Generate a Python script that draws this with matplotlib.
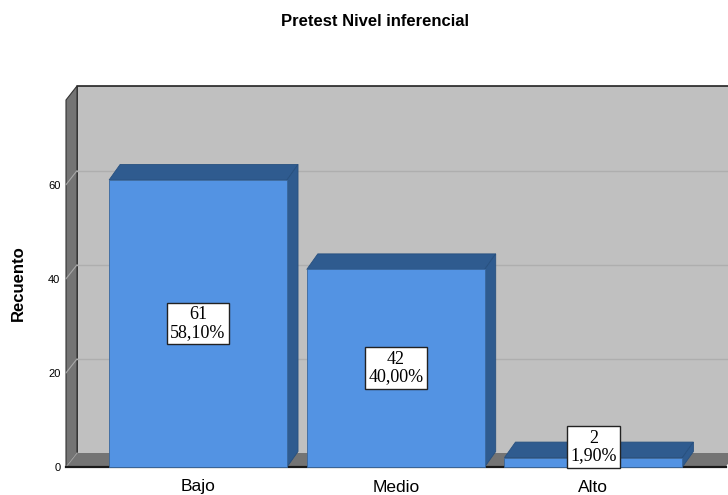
import matplotlib
matplotlib.use('Agg')
import matplotlib.pyplot as plt
from matplotlib.patches import Polygon, Rectangle

# datos del gráfico
categorias = ['Bajo', 'Medio', 'Alto']
recuento = [61, 42, 2]
porcentaje = ['58,10%', '40,00%', '1,90%']
yticks = [0, 20, 40, 60]

plt.rcParams['font.family'] = ['Liberation Sans', 'DejaVu Sans']

W, H = 728, 495
fig = plt.figure(figsize=(W / 100, H / 100), dpi=100)
ax = fig.add_axes([66 / W, 28 / H, 659.5 / W, 367 / H])
x0, x1 = -0.668, 2.668
ymax = 78
ax.set_xlim(x0, x1)
ax.set_ylim(0, ymax)

# profundidad 3D en unidades de datos
pxx = 659.5 / (x1 - x0)
pxy = 367 / ymax
dx = 11 / pxx
dy = 14 / pxy
bdx = 11 / pxx
bdy = 15.5 / pxy

pared = '#c0c0c0'
oscuro = '#747474'
frente = '#5393e3'
tapa = '#2f5b8f'

# pared del fondo
ax.add_patch(Rectangle((x0 + dx, dy), x1 - x0, ymax, fc=pared, ec='none',
                       clip_on=False, zorder=0))
ax.plot([x0 + dx, x0 + dx, x1 + dx], [dy, ymax + dy, ymax + dy],
        color='#222222', lw=1.2, clip_on=False, zorder=1)
# pared izquierda
ax.add_patch(Polygon([(x0, 0), (x0 + dx, dy), (x0 + dx, ymax + dy), (x0, ymax)],
                     fc=oscuro, ec='#333333', lw=0.8, clip_on=False, zorder=1))
# suelo
ax.add_patch(Polygon([(x0, 0), (x0 + dx, dy), (x1 + dx, dy), (x1, 0)],
                     fc=oscuro, ec='none', clip_on=False, zorder=1))

# lineas de cuadricula
for t in yticks[1:]:
    ax.plot([x0 + dx, x1 + dx], [t + dy, t + dy], color='#aeaeae', lw=1,
            clip_on=False, zorder=1)
    ax.plot([x0, x0 + dx], [t, t + dy], color='#a8a8a8', lw=0.8,
            clip_on=False, zorder=2)
ax.plot([x0, x0 + dx], [0, dy], color='#a0a0a0', lw=0.8, clip_on=False, zorder=2)
ax.plot([x0, x1], [0, 0], color='#1a1a1a', lw=1.6, clip_on=False, zorder=2)

# barras
ancho = 0.9
pos = list(range(len(categorias)))
ax.bar(pos, recuento, width=ancho, color=frente, edgecolor='#3a679c',
       linewidth=0.6, zorder=4, clip_on=False)
for i, h in zip(pos, recuento):
    xl, xr = i - ancho / 2, i + ancho / 2
    ax.add_patch(Polygon([(xl, h), (xr, h), (xr + bdx, h + bdy), (xl + bdx, h + bdy)],
                         fc=tapa, ec='#27507f', lw=0.6, clip_on=False, zorder=3))
    ax.add_patch(Polygon([(xr, 0), (xr + bdx, bdy), (xr + bdx, h + bdy), (xr, h)],
                         fc=tapa, ec='#27507f', lw=0.6, clip_on=False, zorder=3))

# etiquetas
for i, n, p in zip(pos, recuento, porcentaje):
    ax.text(i, max(n / 2, 4.2), f'{n}\n{p}', ha='center', va='center',
            family=['Liberation Serif', 'DejaVu Serif'], fontsize=13,
            linespacing=1.05, zorder=6,
            bbox=dict(boxstyle='square,pad=0.2', fc='white', ec='#222222', lw=1))

for s in ax.spines.values():
    s.set_visible(False)
ax.set_facecolor('none')
ax.set_yticks(yticks)
ax.set_yticklabels([str(t) for t in yticks], fontsize=8)
ax.set_xticks(pos)
ax.set_xticklabels(categorias, fontsize=12.5)
ax.tick_params(axis='y', length=0, pad=4)
ax.tick_params(axis='x', length=0, pad=9)

fig.text(18 / W, 1 - 283 / H, 'Recuento', rotation=90, ha='center', va='center',
         fontsize=12, fontweight='bold')
fig.text(375 / W, 1 - 22 / H, 'Pretest Nivel inferencial', ha='center', va='center',
         fontsize=12, fontweight='bold')

fig.savefig('out.png', dpi=100)
